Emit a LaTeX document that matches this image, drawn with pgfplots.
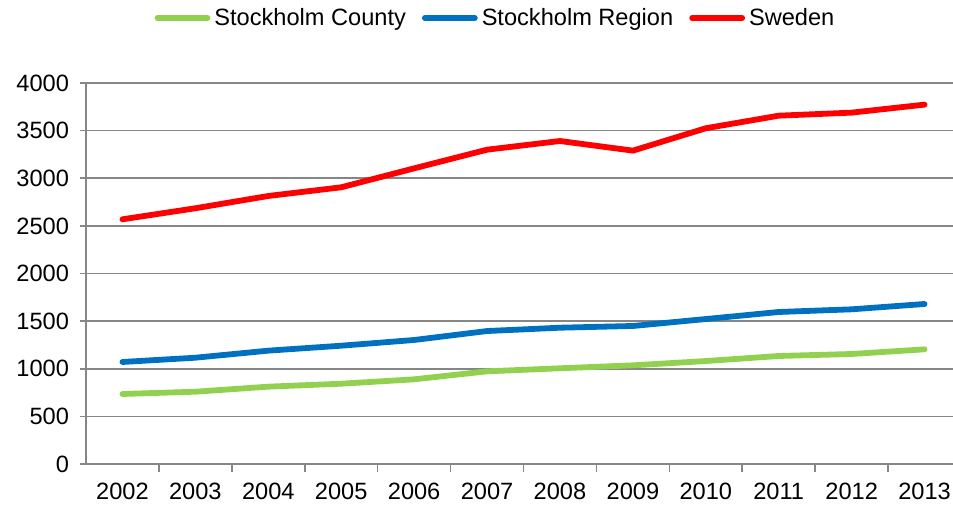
\documentclass[border=0pt]{standalone}
\usepackage{pgfplots}
\pgfplotsset{compat=1.18}
\usepackage{fontspec}
\setmainfont{Liberation Sans}
\definecolor{cgreen}{HTML}{92D050}
\definecolor{cblue}{HTML}{0070C0}
\definecolor{cred}{HTML}{FF0000}
\definecolor{cgrid}{HTML}{868686}
\begin{document}
\begin{tikzpicture}
\begin{axis}[
  at={(0pt,0pt)}, anchor=south west,
  scale only axis,
  width=433.5pt, height=190.5pt,
  xmin=-0.5, xmax=11.39,
  ymin=0, ymax=4000,
  ytick={0,500,...,4000},
  xtick={0,...,11},
  xticklabels={2002,2003,2004,2005,2006,2007,2008,2009,2010,2011,2012,2013},
  minor xtick={0.5,1.5,...,10.5},
  major x tick style={draw=none},
  minor tick length=4pt,
  major tick length=3pt,
  tick align=outside,
  axis x line*=bottom, axis y line*=left,
  axis line style={cgrid, line width=0.8pt, -},
  tick style={cgrid, line width=0.8pt},
  ymajorgrids,
  grid style={cgrid, line width=0.8pt},
  /pgf/number format/assume math mode=true,
  scaled y ticks=false,
  yticklabel style={/pgf/number format/1000 sep={}},
  ticklabel style={font=\fontsize{11.8}{14}\selectfont},
  yticklabel style={xshift=-2pt},
  xticklabel style={yshift=-3pt},
  legend style={draw=none, at={(205.25pt,223pt)}, anchor=center,
    font=\fontsize{11.8}{14}\selectfont, legend columns=3,
    /tikz/every even column/.append style={column sep=6pt},
    inner sep=0pt},
  legend image code/.code={\draw[#1, line cap=round] (0pt,0pt) -- (25pt,0pt);},
  legend cell align=left,
  every axis plot/.append style={line width=2.9pt, line join=round, line cap=round, mark=none},
]
\addplot[cgreen] coordinates {(0,735) (1,759) (2,812) (3,843) (4,889) (5,973) (6,1005) (7,1036) (8,1081) (9,1134) (10,1155) (11,1204)};
\addlegendentry{Stockholm County}
\addplot[cblue] coordinates {(0,1071) (1,1116) (2,1190) (3,1242) (4,1302) (5,1396) (6,1431) (7,1449) (8,1522) (9,1596) (10,1624) (11,1680)};
\addlegendentry{Stockholm Region}
\addplot[cred] coordinates {(0,2569) (1,2685) (2,2814) (3,2905) (4,3104) (5,3300) (6,3391) (7,3290) (8,3525) (9,3657) (10,3689) (11,3773)};
\addlegendentry{Sweden}
\end{axis}
\pgfresetboundingbox
\path[use as bounding box] (-43pt,-20.5pt) rectangle (433.5pt,232pt);
\end{tikzpicture}
\end{document}
